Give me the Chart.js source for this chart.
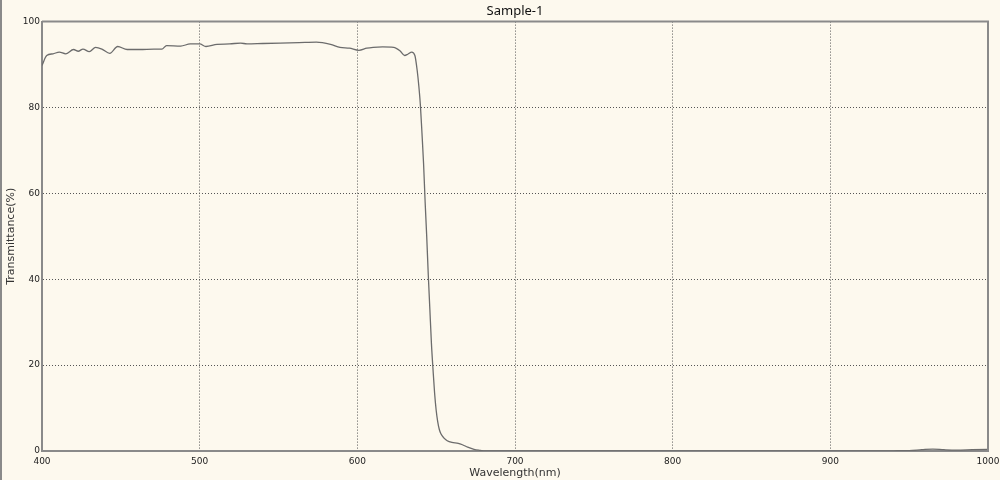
<!DOCTYPE html>
<html>
<head>
<meta charset="utf-8">
<script src="https://cdn.jsdelivr.net/npm/chart.js@4/dist/chart.umd.min.js"></script>
<style>
  html, body { margin: 0; padding: 0; background: #fdf9ee; }
  #wrap { width: 1000px; height: 480px; }
</style>
</head>
<body>
<div id="wrap"><canvas id="specChart" width="1000" height="480"></canvas></div>
<script>
  'use strict';

  // Chart title
  const chartTitle = 'Sample-1';
  const xTitle = 'Wavelength(nm)';
  const yTitle = 'Transmittance(%)';

  // Wavelength in nm
  const wavelength = [
    400, 403, 407, 411, 415, 420, 423, 426, 430, 434, 438, 443, 448, 454, 462,
    471, 476, 479, 488, 494, 500, 504, 511, 519, 526, 530, 540, 551, 563, 574,
    583, 589, 595, 601, 606, 610, 616, 623, 627, 630, 632, 634.5, 636.5, 638,
    639, 640, 641, 642, 643, 644, 645, 646, 647, 648, 649, 650, 651, 652, 653,
    655, 657, 660, 664, 667, 670, 674, 678, 681, 690, 700, 750, 800, 850, 900,
    940, 950, 958, 965, 972, 980, 990, 1000
  ];

  // Transmittance in %, one per wavelength
  const transmittance = [
    89.8, 92.1, 92.5, 92.9, 92.5, 93.5, 93.1, 93.6, 93.0, 94.0, 93.6, 92.6, 94.2, 93.5, 93.5,
    93.6, 93.6, 94.4, 94.3, 94.8, 94.8, 94.2, 94.7, 94.8, 95.0, 94.8, 94.9, 95.0, 95.1, 95.2,
    94.7, 94.0, 93.8, 93.3, 93.8, 94.0, 94.1, 94.0, 93.2, 92.1, 92.4, 92.9, 92.1, 88.5,
    85.0, 80.5, 74.0, 67.0, 58.0, 50.0, 41.0, 33.0, 25.0, 19.0, 13.5, 9.5, 6.8, 5.0, 4.0,
    3.0, 2.4, 2.0, 1.8, 1.4, 0.9, 0.4, 0.15, 0.0, 0.0, 0.0, 0.0, 0.0, 0.0, 0.0,
    0.05, 0.1, 0.3, 0.45, 0.3, 0.2, 0.3, 0.4
  ];

  // Tick values
  const xTicks = [400, 500, 600, 700, 800, 900, 1000];
  const yTicks = [0, 20, 40, 60, 80, 100];

  const points = wavelength.map((w, i) => ({ x: w, y: transmittance[i] }));

  // Background, outer left edge and the solid frame round the plot
  const framePlugin = {
    id: 'frame',
    beforeDraw(chart) {
      const ctx = chart.ctx;
      ctx.save();
      ctx.fillStyle = '#fdf9ee';
      ctx.fillRect(0, 0, chart.width, chart.height);
      ctx.strokeStyle = '#8a8a8a';
      ctx.lineWidth = 2;
      ctx.beginPath();
      ctx.moveTo(1, 0);
      ctx.lineTo(1, chart.height);
      ctx.stroke();
      ctx.restore();
    },
    afterDraw(chart) {
      const a = chart.chartArea;
      const ctx = chart.ctx;
      ctx.save();
      ctx.strokeStyle = '#8a8a8a';
      ctx.lineWidth = 2;
      ctx.beginPath();
      ctx.moveTo(a.left, a.top);
      ctx.lineTo(a.right, a.top);
      ctx.lineTo(a.right, a.bottom);
      ctx.stroke();
      ctx.restore();
    }
  };

  const ctx = document.getElementById('specChart');

  new Chart(ctx, {
    type: 'line',
    data: {
      datasets: [{
        label: chartTitle,
        data: points,
        borderColor: '#6c6c6c',
        borderWidth: 1.3,
        pointRadius: 0,
        fill: false,
        cubicInterpolationMode: 'monotone'
      }]
    },
    plugins: [framePlugin],
    options: {
      responsive: false,
      animation: false,
      layout: { padding: { left: 0, right: 12, top: 0, bottom: 0 } },
      plugins: {
        legend: { display: false },
        tooltip: { enabled: false },
        title: {
          display: true,
          fullSize: false,
          text: chartTitle,
          color: '#111',
          font: { family: 'Noto Sans', size: 13, weight: 'normal' },
          padding: { top: 3, bottom: 3 }
        }
      },
      scales: {
        x: {
          type: 'linear',
          min: 400,
          max: 1000,
          afterBuildTicks: (scale) => { scale.ticks = xTicks.map(v => ({ value: v })); },
          afterFit: (scale) => {
            scale.height = 29;
            scale.paddingLeft = 0;
            scale.paddingRight = 0;
          },
          ticks: {
            color: '#222',
            font: { family: 'DejaVu Sans', size: 9 },
            padding: 5,
            maxRotation: 0,
            callback: (v) => String(v)
          },
          grid: { color: '#555', lineWidth: 1, drawTicks: false },
          border: { color: '#8a8a8a', width: 2, dash: [1, 2] },
          title: {
            display: true,
            text: xTitle,
            color: '#333',
            font: { family: 'DejaVu Sans', size: 11 },
            padding: { top: -3, bottom: 0 }
          }
        },
        y: {
          min: 0,
          max: 100,
          afterBuildTicks: (scale) => { scale.ticks = yTicks.map(v => ({ value: v })); },
          afterFit: (scale) => {
            scale.width = 42;
            scale.paddingTop = 0;
            scale.paddingBottom = 0;
          },
          ticks: {
            color: '#222',
            font: { family: 'DejaVu Sans', size: 9 },
            padding: 2,
            callback: (v) => String(v)
          },
          grid: { color: '#555', lineWidth: 1, drawTicks: false },
          border: { color: '#8a8a8a', width: 2, dash: [1, 2] },
          title: {
            display: true,
            text: yTitle,
            color: '#333',
            font: { family: 'DejaVu Sans', size: 11 },
            padding: { top: 5, bottom: 0 }
          }
        }
      }
    }
  });
</script>
</body>
</html>
